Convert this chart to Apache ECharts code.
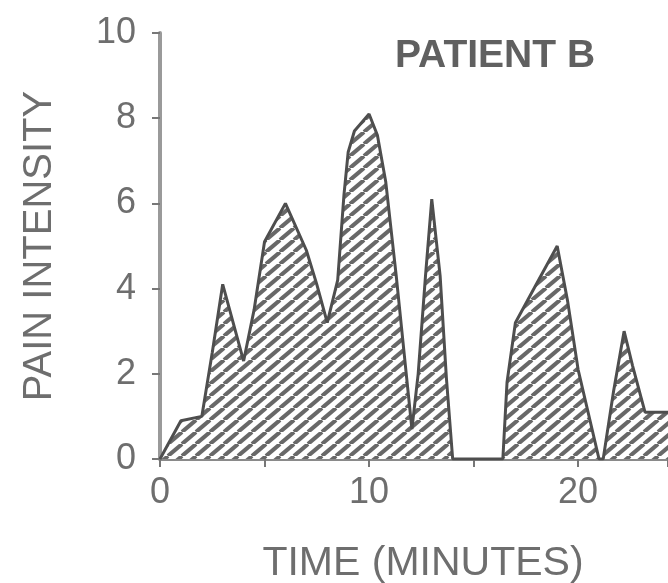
<!DOCTYPE html>
<html>
<head>
<meta charset="utf-8">
<script src="https://cdn.jsdelivr.net/npm/echarts@6/dist/echarts.min.js"></script>
<style>
html,body{margin:0;padding:0;background:#fff;}
#chart{width:668px;height:583px;}
</style>
</head>
<body>
<div id="chart"></div>
<script>
// Data
var time = [0, 1, 2, 2.5, 3, 4, 4.5, 5, 6, 7, 7.5, 8, 8.5, 8.8, 9, 9.3, 10, 10.4, 10.8, 11.3, 11.8, 12.05, 12.35, 12.7, 13, 13.4, 13.7, 14, 16.4, 16.6, 17, 18, 19, 19.5, 20, 21, 21.2, 21.7, 22.2, 22.6, 23.2, 24.3];
var pain = [0, 0.9, 1, 2.5, 4.1, 2.3, 3.5, 5.1, 6, 4.9, 4.1, 3.2, 4.2, 6.2, 7.2, 7.7, 8.1, 7.6, 6.5, 4.3, 1.9, 0.7, 2, 4.3, 6.1, 4.3, 1.9, 0, 0, 1.8, 3.2, 4.1, 5, 3.7, 2.1, 0, 0, 1.6, 3, 2.2, 1.1, 1.1];
var xTickLabels = [0, 10, 20];
var yTickLabels = [0, 2, 4, 6, 8, 10];
var panelLabel = 'PATIENT B';
var xTitle = 'TIME (MINUTES)';
var yTitle = 'PAIN INTENSITY';

// hatch pattern (////)
var W = 14, H = 12;
var cv = document.createElement('canvas');
cv.width = W; cv.height = H;
var ctx = cv.getContext('2d');
ctx.fillStyle = '#ffffff';
ctx.fillRect(0, 0, W, H);
ctx.strokeStyle = '#686868';
ctx.lineWidth = 4;
for (var k = -1; k <= 1; k++) {
  ctx.beginPath();
  ctx.moveTo(k * W, H);
  ctx.lineTo(k * W + W, 0);
  ctx.stroke();
}

var seriesData = time.map(function (t, i) { return [t, pain[i]]; });
var font = 'Liberation Sans, Arial, sans-serif';
var textColor = '#6e6e6e';

var chart = echarts.init(document.getElementById('chart'), null, {renderer: 'canvas'});
chart.setOption({
  animation: false,
  backgroundColor: '#ffffff',
  grid: {left: 160, right: 0, top: 33, bottom: 124, containLabel: false, outerBoundsMode: 'none'},
  xAxis: {
    type: 'value', min: 0, max: 24.3, interval: 5,
    name: xTitle, nameLocation: 'middle', nameGap: 84,
    nameTextStyle: {fontFamily: font, fontSize: 41, color: textColor, padding: [0, 0, 0, 18]},
    axisLine: {show: true, lineStyle: {color: '#8a8a8a', width: 3}},
    axisTick: {show: true, length: 8, lineStyle: {color: '#777', width: 2}},
    axisLabel: {
      margin: 16, fontFamily: font, fontSize: 36, color: textColor,
      formatter: function (v) { return xTickLabels.indexOf(v) >= 0 ? String(v) : ''; }
    },
    splitLine: {show: false}
  },
  yAxis: {
    type: 'value', min: 0, max: 10, interval: 2,
    name: yTitle, nameLocation: 'middle', nameGap: 100, nameRotate: 90,
    nameTextStyle: {fontFamily: font, fontSize: 40, color: textColor},
    axisLine: {show: true, lineStyle: {color: '#9a9a9a', width: 4}},
    axisTick: {show: true, length: 8, lineStyle: {color: '#777', width: 2}},
    axisLabel: {
      margin: 24, fontFamily: font, fontSize: 36, color: textColor,
      formatter: function (v) { return yTickLabels.indexOf(v) >= 0 ? String(v) : ''; }
    },
    splitLine: {show: false}
  },
  graphic: [{
    type: 'text', left: 395, top: 37,
    style: {text: panelLabel, font: 'bold 39px Liberation Sans, Arial, sans-serif', fill: '#606060'}
  }],
  series: [{
    type: 'line',
    data: seriesData,
    symbol: 'none',
    smooth: false,
    clip: true,
    lineStyle: {color: '#4e4e4e', width: 3},
    areaStyle: {color: {image: cv, repeat: 'repeat'}, opacity: 1, origin: 'start'}
  }]
});
</script>
</body>
</html>
